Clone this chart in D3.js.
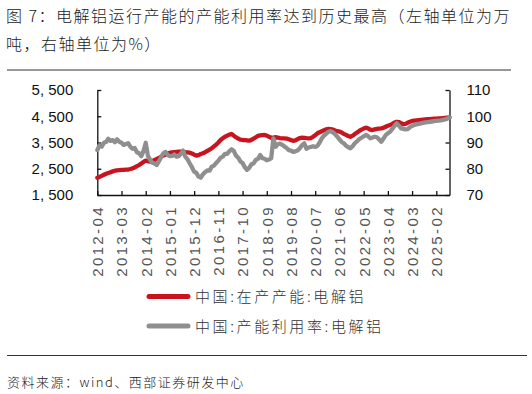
<!DOCTYPE html>
<meta charset="utf-8">
<style>
body { margin: 0; background: #fff; }
svg { display: block; }
.cjk { font-family: "Noto Sans CJK SC", sans-serif; font-weight: 300; }
.axis text { font-family: "Liberation Sans", Arial, sans-serif; font-size: 15px; fill: #111; }
.axis path, .axis line { stroke: #111; stroke-width: 1.3px; }
.xaxis text { fill: #555; letter-spacing: 2.4px; }
.series { fill: none; stroke-width: 4.3px; stroke-linejoin: round; stroke-linecap: round; }
</style>
<svg width="532" height="394"></svg>
<script src="https://cdn.jsdelivr.net/npm/d3@7/dist/d3.min.js"></script>
<script>

// monthly, 2012-04 .. 2025-08
var startMonth = "2012-04",
    endMonth = "2025-08";

// 中国:在产产能:电解铝 (万吨, left axis)
var capacity = [
  2160, 2190, 2230, 2270, 2310, 2340, 2370, 2400, 2425, 2440, 2450, 2455,
  2460, 2465, 2470, 2490, 2515, 2550, 2600, 2640, 2700, 2760, 2810, 2790,
  2770, 2800, 2835, 2870, 2910, 2960, 3000, 3040, 3080, 3110, 3120, 3130,
  3140, 3150, 3150, 3145, 3130, 3120, 3110, 3080, 3040, 3000, 3020, 3060,
  3090, 3130, 3180, 3230, 3280, 3350, 3420, 3500, 3595, 3660, 3720, 3760,
  3800, 3825, 3760, 3700, 3650, 3610, 3595, 3590, 3580, 3570, 3600, 3650,
  3700, 3750, 3770, 3780, 3785, 3760, 3720, 3680, 3690, 3700, 3690, 3670,
  3660, 3660, 3650, 3620, 3590, 3565, 3580, 3630, 3670, 3685, 3680, 3665,
  3660, 3670, 3720, 3780, 3850, 3890, 3930, 3970, 4000, 4015, 4010, 3990,
  3960, 3930, 3915, 3880, 3830, 3790, 3750, 3720, 3760, 3820, 3880, 3940,
  3990, 4030, 4065, 4040, 3990, 3975, 4000, 4020, 4030, 4040, 4060, 4100,
  4140, 4165, 4210, 4260, 4290, 4280, 4240, 4195, 4210, 4250, 4290, 4320,
  4330, 4340, 4350, 4360, 4370, 4380, 4385, 4390, 4400, 4405, 4410, 4415,
  4420, 4430, 4440, 4450, 4460
];

// 中国:产能利用率:电解铝 (%, right axis)
var utilization = [
  87.1, 88.9, 88.4, 89.9, 90.2, 91.4, 90.6, 90.9, 90.1, 91.2, 90.3, 89.9,
  89.1, 89.4, 89.7, 88.4, 87.6, 87.9, 86.3, 85.9, 84.8, 86.8, 89.9, 84.9,
  83.4, 82.3, 82.0, 81.4, 82.9, 84.4, 85.9, 86.4, 85.2, 84.8, 84.9, 85.4,
  84.6, 84.8, 85.7, 86.9, 84.6, 83.6, 82.0, 80.6, 78.9, 78.4, 77.0, 76.6,
  77.9, 78.7, 79.4, 79.3, 80.8, 81.2, 82.2, 83.1, 84.2, 84.6, 85.7, 85.7,
  86.7, 87.4, 86.8, 85.0, 84.2, 82.8, 82.2, 80.6, 79.6, 80.3, 81.7, 82.0,
  83.4, 83.8, 85.2, 84.0, 83.8, 83.2, 83.5, 84.0, 91.6, 88.4, 89.3, 89.6,
  89.1, 88.5, 87.9, 87.1, 86.9, 86.4, 86.6, 87.0, 87.8, 89.0, 89.7, 87.6,
  88.1, 88.3, 88.6, 88.3, 88.7, 90.0, 91.6, 92.6, 93.4, 94.1, 94.3, 93.9,
  93.2, 92.2, 91.2, 90.2, 89.7, 88.8, 88.2, 87.8, 88.6, 89.7, 90.5, 91.3,
  91.8, 92.3, 92.9, 92.4, 91.6, 91.9, 92.2, 92.0, 91.2, 90.3, 91.5, 92.8,
  93.5, 94.1, 95.2, 96.3, 97.3, 96.4, 95.4, 95.2, 95.0, 95.1, 95.8, 96.3,
  96.7, 96.9, 97.1, 97.3, 97.5, 97.7, 97.8, 97.9, 98.0, 98.1, 98.2, 98.3,
  98.4, 98.6, 98.8, 99.1, 99.5
];

var xTickLabels = ["2012-04", "2013-03", "2014-02", "2015-01", "2015-12", "2016-11",
  "2017-10", "2018-09", "2019-08", "2020-07", "2021-06", "2022-05", "2023-04",
  "2024-03", "2025-02"];
var leftTicks = [1500, 2500, 3500, 4500, 5500];
var rightTicks = [70, 80, 90, 100, 110];
var seriesNames = ["中国:在产产能:电解铝", "中国:产能利用率:电解铝"];

var svg = d3.select("svg");
var fmtMonth = d3.timeFormat("%Y-%m"),
    parseMonth = d3.timeParse("%Y-%m");
var months = d3.timeMonth.range(parseMonth(startMonth), d3.timeMonth.offset(parseMonth(endMonth), 1)).map(fmtMonth);

var plotLeft = 97.3, plotRight = 449.5, plotTop = 90, plotBottom = 195;

var x = d3.scalePoint().domain(months).range([plotLeft, plotRight]);
var yL = d3.scaleLinear().domain([1500, 5500]).range([plotBottom, plotTop]);
var yR = d3.scaleLinear().domain([70, 110]).range([plotBottom, plotTop]);

// title
var title = svg.append("g").attr("class", "cjk")
    .style("font-size", "16px").style("letter-spacing", "1.5px").attr("fill", "#1a1a1a");
title.append("text").attr("x", 6).attr("y", 22).text("图 7：电解铝运行产能的产能利用率达到历史最高（左轴单位为万");
title.append("text").attr("x", 6).attr("y", 50).text("吨，右轴单位为%）");

svg.append("line").attr("x1", 7).attr("x2", 511).attr("y1", 70).attr("y2", 70)
    .attr("stroke", "#333").attr("stroke-width", 1.2);
svg.append("line").attr("x1", 7).attr("x2", 527).attr("y1", 355.5).attr("y2", 355.5)
    .attr("stroke", "#333").attr("stroke-width", 1.2);

// axes
svg.append("g").attr("class", "axis")
    .attr("transform", "translate(" + plotLeft + ",0)")
    .call(d3.axisLeft(yL).tickValues(leftTicks).tickSize(-4).tickSizeOuter(0).tickPadding(24)
      .tickFormat(function(d) { return d3.format(",")(d).replace(",", ", "); }));

svg.append("g").attr("class", "axis")
    .attr("transform", "translate(" + plotRight + ",0)")
    .call(d3.axisRight(yR).tickValues(rightTicks).tickSize(-4).tickSizeOuter(0).tickPadding(17));

var xAxis = svg.append("g").attr("class", "axis xaxis")
    .attr("transform", "translate(0," + plotBottom + ")")
    .call(d3.axisBottom(x).tickValues(xTickLabels).tickSize(-4).tickSizeOuter(0));
xAxis.selectAll("text")
    .attr("transform", "rotate(-90)")
    .attr("text-anchor", "end")
    .attr("x", -10)
    .attr("y", 0)
    .attr("dy", "0.36em");

// lines
var lineL = d3.line().x(function(d, i) { return x(months[i]); }).y(function(d) { return yL(d); });
var lineR = d3.line().x(function(d, i) { return x(months[i]); }).y(function(d) { return yR(d); });

svg.append("path").datum(capacity).attr("class", "series")
    .attr("stroke", "#c8141f").attr("d", lineL);
svg.append("path").datum(utilization).attr("class", "series")
    .attr("stroke", "#8f8f8f").attr("d", lineR);

// legend
var legend = svg.append("g").attr("class", "cjk");
var legendColors = ["#c8141f", "#8f8f8f"];
seriesNames.forEach(function(name, i) {
  var ly = 296.5 + i * 29.5;
  legend.append("line").attr("x1", 149).attr("x2", 188).attr("y1", ly).attr("y2", ly)
      .attr("stroke", legendColors[i]).attr("stroke-width", 5).attr("stroke-linecap", "round");
  legend.append("text").attr("x", 195).attr("y", ly + 5.5)
      .style("font-size", "15px").style("letter-spacing", "2.6px").attr("fill", "#333")
      .text(name);
});

// source
svg.append("text").attr("class", "cjk").attr("x", 7).attr("y", 387)
    .style("font-size", "13px").style("letter-spacing", "1.5px").attr("fill", "#222")
    .text("资料来源：wind、西部证券研发中心");

</script>
